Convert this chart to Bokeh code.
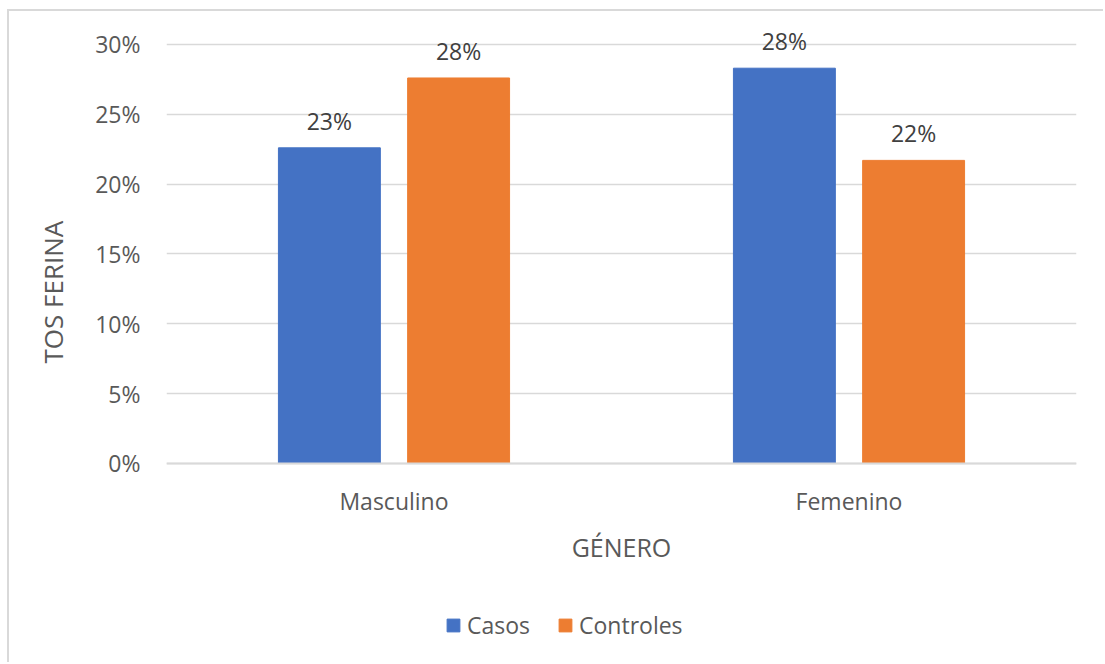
from bokeh.core.properties import value
from bokeh.embed import file_html
from bokeh.models import (FactorRange, LabelSet, Legend, LegendItem, Title,
                          NumeralTickFormatter, Range1d, ColumnDataSource,
                          FixedTicker)
from bokeh.plotting import figure
from bokeh.resources import INLINE
from bokeh.transform import dodge

# Share of whooping-cough cases / controls by gender
generos = ["Masculino", "Femenino"]
casos = [0.226, 0.283]
controles = [0.276, 0.217]
y_ticks = [0.0, 0.05, 0.10, 0.15, 0.20, 0.25, 0.30]

FONT = "Open Sans"
BLUE = "#4472C4"
ORANGE = "#ED7D31"
GRID = "#D9D9D9"
TICK_TXT = "#595959"
LABEL_TXT = "#404040"

BAR_W = 0.224
OFFSET = 0.142


def pct(v):
    return f"{round(v * 100):.0f}%"


src = ColumnDataSource(dict(
    genero=generos,
    casos=casos,
    controles=controles,
    casos_txt=[pct(v) for v in casos],
    controles_txt=[pct(v) for v in controles],
))

# the frame runs down to the bottom edge so that the category axis
# (pinned at 0) and the legend can sit inside it
p = figure(
    width=1096, height=653,
    x_range=FactorRange(*generos, range_padding=0, factor_padding=0),
    y_range=Range1d(-0.1439, 0.315),
    output_backend="svg", toolbar_location=None,
    min_border_left=157, min_border_right=29,
    min_border_top=12, min_border_bottom=0,
)
p.margin = (9, 0, 0, 7)
p.styles = {"border-left": f"2px solid {GRID}", "border-top": f"2px solid {GRID}"}
p.outline_line_color = None
p.background_fill_color = "white"
p.border_fill_color = "white"

r_casos = p.vbar(x=dodge("genero", -OFFSET, range=p.x_range), top="casos",
                 width=BAR_W, source=src, color=BLUE)
r_ctrl = p.vbar(x=dodge("genero", OFFSET, range=p.x_range), top="controles",
                width=BAR_W, source=src, color=ORANGE)

for col, off in (("casos", -OFFSET), ("controles", OFFSET)):
    p.add_layout(LabelSet(
        x=dodge("genero", off, range=p.x_range), y=col, text=f"{col}_txt",
        source=src, text_align="center", text_baseline="alphabetic",
        y_offset=18, text_font=value(FONT), text_font_size="23px",
        text_color=LABEL_TXT,
    ))

# axes
p.yaxis.ticker = FixedTicker(ticks=y_ticks)
p.yaxis.formatter = NumeralTickFormatter(format="0%")
p.yaxis.axis_line_color = None
p.yaxis.major_tick_line_color = None
p.yaxis.minor_tick_line_color = None
p.yaxis.major_tick_out = 0
p.yaxis.major_label_standoff = 26
p.yaxis.major_label_text_font = FONT
p.yaxis.major_label_text_font_size = "23px"
p.yaxis.major_label_text_color = TICK_TXT

p.xaxis.fixed_location = 0
p.xaxis.axis_line_color = GRID
p.xaxis.axis_line_width = 2
p.xaxis.major_tick_line_color = None
p.xaxis.minor_tick_line_color = None
p.xaxis.major_tick_out = 0
p.xaxis.major_label_standoff = 22
p.xaxis.major_label_text_font = FONT
p.xaxis.major_label_text_font_size = "23px"
p.xaxis.major_label_text_color = TICK_TXT
p.xaxis.axis_label = "GÉNERO"
p.xaxis.axis_label_standoff = 9
p.xaxis.axis_label_text_font = FONT
p.xaxis.axis_label_text_font_size = "25px"
p.xaxis.axis_label_text_font_style = "normal"
p.xaxis.axis_label_text_color = TICK_TXT

p.xgrid.grid_line_color = None
p.ygrid.grid_line_color = GRID
p.ygrid.grid_line_width = 1.5

# vertical axis title, placed in the left panel
p.add_layout(Title(
    text="TOS FERINA", align="left", offset=301, standoff=43,
    text_font=FONT, text_font_size="26px", text_font_style="normal",
    text_color=TICK_TXT,
), "left")

legend = Legend(
    items=[LegendItem(label="Casos", renderers=[r_casos]),
           LegendItem(label="Controles", renderers=[r_ctrl])],
    orientation="horizontal", location=(279, 23),
    glyph_width=16, glyph_height=16, spacing=27, padding=0, margin=0,
    label_standoff=6, label_text_font=FONT, label_text_font_size="23px",
    label_text_color=TICK_TXT, border_line_color=None,
    background_fill_alpha=0,
)
p.add_layout(legend, "center")

open("out.html", "w").write(file_html(p, INLINE))
